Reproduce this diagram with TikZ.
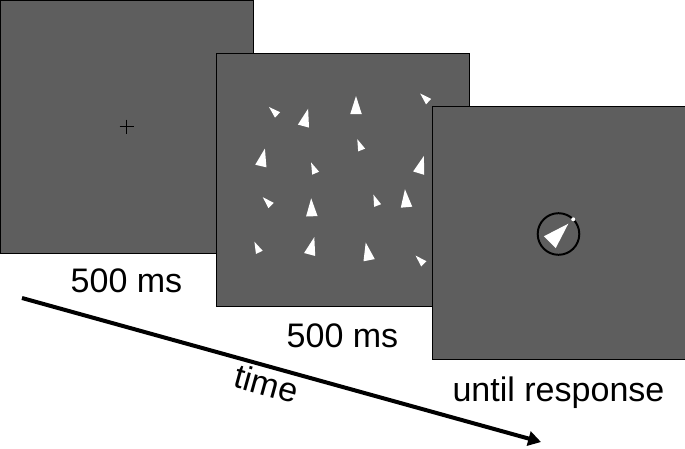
\documentclass[tikz,border=0pt]{standalone}
\usepackage{fontspec}
\setmainfont{Liberation Sans}
\usetikzlibrary{positioning,arrows.meta}
\definecolor{screengray}{RGB}{94,94,94}
\tikzstyle{screen}=[draw,%
                    rectangle,%
                    fill=screengray,%
                    line width=0.6pt,%
                    inner sep=0pt,%
                    minimum size=6.325cm]
\tikzstyle{caption}=[inner sep=0pt, font=\fontsize{24.2}{29}\selectfont]
\tikzstyle{stim}=[fill=white]
\tikzstyle{knob}=[circle, fill=white, inner sep=0pt, minimum size=0.1cm]
\tikzstyle{timeline}=[line width=2.85pt, -{Triangle[length=0.32cm,width=0.36cm]}]

\begin{document}
\begin{tikzpicture}[x=0.025cm,y=-0.025cm]
  \useasboundingbox (0,0) rectangle (685,448);
  % fixation
  \node[screen] (fix) at (126.5,126.5) {};
  \draw[line width=0.7pt] (fix.center) +(-7,0) -- +(7,0) (fix.center) +(0,-7) -- +(0,7);
  % search display
  \node[screen] (search) at (342.5,179.5) {};
  \foreach \cx/\cy/\sz/\rot in {274.7/112.3/0.65/47, 305/120.3/1/-15, 356/108/1/0,
      425.8/98.9/0.65/46, 360.2/146.4/0.65/22, 262.2/160.2/1/-13, 314.1/169.6/0.65/23,
      420.4/167.4/1/-17, 268.3/202.7/0.65/45, 311.6/210.3/1/2, 376.2/201.9/0.65/21,
      406/201.2/1/5, 257.7/248.8/0.65/25, 311.2/248.7/1/-15, 368/254.3/1/11,
      421.1/261.1/0.65/45}
    \fill[stim, shift={(\cx,\cy)}, rotate=\rot, scale=\sz] (0,-12) -- (5.75,6) -- (-5.75,6) -- cycle;
  % response display
  \node[screen] (probe) at (558.5,232.5) {};
  \node[draw, circle, line width=1.4pt, minimum size=1.04cm, outer sep=0pt] (dial) at (558.5,234) {};
  \fill[stim, shift={(556,236)}, rotate=-45, scale=1.45] (0,-12) -- (5.75,6) -- (-5.75,6) -- cycle;
  \node[knob] (knob) at (dial.45) {};
  % durations
  \node[caption][below=0.37cm of fix] (capfix) {500 ms};
  \node[caption][below=0.43cm of search] (capsearch) {500 ms};
  \node[caption][below=0.43cm of probe] (capprobe) {until response};
  % time axis
  \coordinate (tstart) at (22,298);
  \coordinate (tend) at (541,442);
  \draw[timeline] (tstart) -- node[caption, sloped, below, pos=0.48, inner sep=3.3pt, outer sep=0pt] (tlabel) {time} (tend);
\end{tikzpicture}
\end{document}
